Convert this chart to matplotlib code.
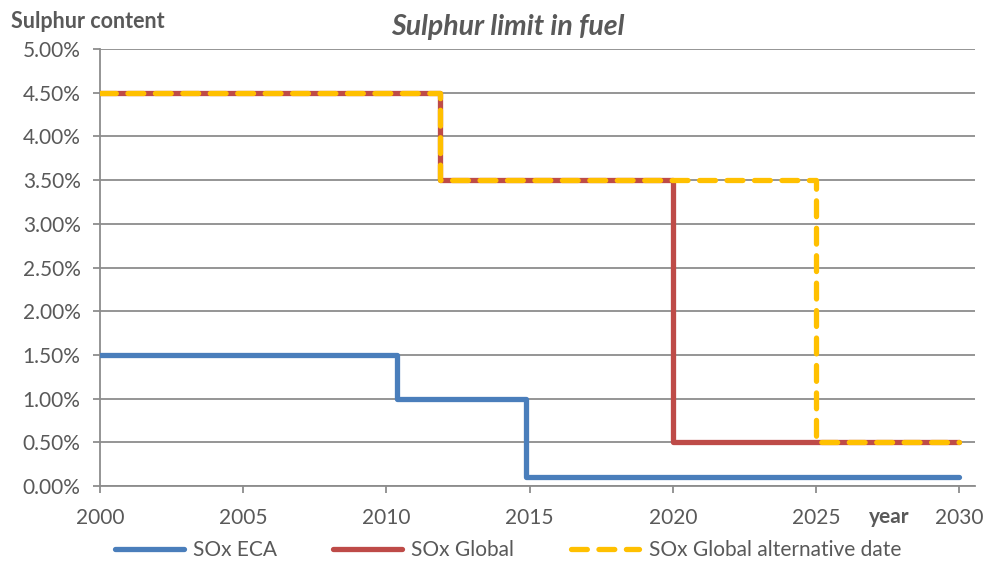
import matplotlib
matplotlib.use("Agg")
import matplotlib.pyplot as plt
from matplotlib.lines import Line2D
from matplotlib.ticker import FuncFormatter, MultipleLocator

plt.rcParams['font.family'] = ['Lato', 'DejaVu Sans']

# Step change years and sulphur limits (%)
eca_years = [2000, 2010.37, 2014.88, 2030]
eca_limits = [1.5, 1.0, 0.1, 0.1]

global_years = [2000, 2011.86, 2020, 2030]
global_limits = [4.5, 3.5, 0.5, 0.5]

alt_years = [2000, 2011.86, 2025, 2030]
alt_limits = [4.5, 3.5, 0.5, 0.5]

series_names = ["SOx ECA", "SOx Global", "SOx Global alternative date"]
x_ticks = [2000, 2005, 2010, 2015, 2020, 2025, 2030]

TEXT = "#595959"
GRID = "#8c8c8c"
BLUE = "#4a7ebb"
RED = "#be4b48"
GOLD = "#ffc000"

fig = plt.figure(figsize=(9.84, 5.63), dpi=100)
ax = fig.add_axes([100 / 984, 1 - 486 / 563, 875 / 984, 437 / 563])

lw = 3.8
ax.step(eca_years, eca_limits, where="post", color=BLUE, lw=lw,
        solid_capstyle="round", solid_joinstyle="round", zorder=3)
ax.step(global_years, global_limits, where="post", color=RED, lw=lw,
        solid_capstyle="round", solid_joinstyle="round", zorder=3)
ax.step(alt_years, alt_limits, where="post", color=GOLD, lw=lw,
        linestyle=(0, (3.0, 2.2)), dash_capstyle="round",
        dash_joinstyle="round", zorder=4)

ax.set_xlim(2000, 2030.55)
ax.set_ylim(0, 5.0)
ax.set_xticks(x_ticks)
ax.yaxis.set_major_locator(MultipleLocator(0.5))
ax.yaxis.set_major_formatter(FuncFormatter(lambda v, _: f"{v:.2f}%"))

ax.grid(axis="y", color=GRID, lw=1.3, zorder=1)
ax.set_axisbelow(True)
for side in ("top", "right"):
    ax.spines[side].set_visible(False)
for side in ("left", "bottom"):
    ax.spines[side].set_color(GRID)
    ax.spines[side].set_linewidth(1.3)

ax.tick_params(axis="both", colors=GRID, length=5, width=1.3,
               labelcolor=TEXT, labelsize=15)
ax.tick_params(axis="x", pad=11)
ax.tick_params(axis="y", pad=9)

ax.text(2027.55, -0.35, "year", ha="center", va="center",
        fontsize=15, fontweight="bold", color=TEXT)

fig.text(11 / 984, 1 - 22 / 563, "Sulphur content", ha="left", va="center",
         fontsize=15.5, fontweight="bold", color=TEXT)
fig.text(508 / 984, 1 - 27 / 563, "Sulphur limit in fuel", ha="center",
         va="center", fontsize=20.5, fontweight="bold", fontstyle="italic",
         color=TEXT)

handles = [
    Line2D([], [], color=BLUE, lw=lw, solid_capstyle="round"),
    Line2D([], [], color=RED, lw=lw, solid_capstyle="round"),
    Line2D([], [], color=GOLD, lw=lw, linestyle=(0, (3.0, 2.2)),
           dash_capstyle="round"),
]
leg = fig.legend(handles, series_names, loc="center",
                 bbox_to_anchor=(508 / 984, 1 - 550 / 563), ncol=3,
                 frameon=False, fontsize=15, handlelength=3.3,
                 handletextpad=0.45, columnspacing=2.7)
for t in leg.get_texts():
    t.set_color(TEXT)

fig.savefig("out.png", dpi=100)
